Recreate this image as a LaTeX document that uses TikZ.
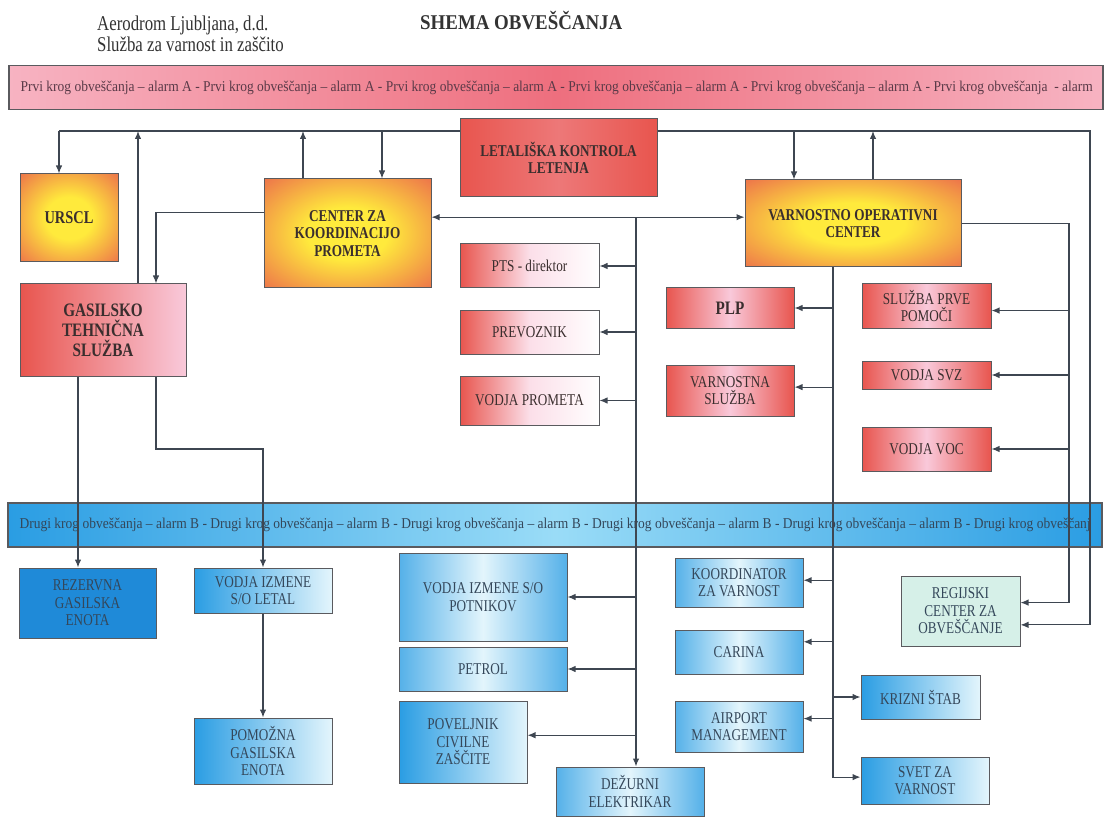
\documentclass[tikz,border=0pt]{standalone}
\usepackage{fontspec}
\setmainfont{Liberation Serif}[FakeStretch=0.9]
\newfontfamily\narrowfont{Liberation Serif}[FakeStretch=0.8]
\usetikzlibrary{arrows.meta}
\usetikzlibrary{calc}

\definecolor{boxred}{HTML}{E8554E}
\definecolor{glowyellow}{HTML}{FFEA3C}
\definecolor{boxpink}{HTML}{F9C9DA}
\definecolor{bandpink}{HTML}{F7B3C2}
\definecolor{bandred}{HTML}{EE6F7E}
\definecolor{boxblue}{HTML}{2A9DE3}
\definecolor{paleblue}{HTML}{E3F5FC}
\definecolor{bandcyan}{HTML}{9ADCF7}
\definecolor{deepblue}{HTML}{1F8AD8}
\definecolor{mint}{HTML}{D6F0E8}
\definecolor{linegray}{HTML}{3E4651}
\definecolor{boxline}{HTML}{5A5A5E}
\definecolor{redtext}{HTML}{3A2E2E}
\definecolor{bluetext}{HTML}{34475A}
\definecolor{pinktext}{HTML}{5A3A48}
\definecolor{headtext}{HTML}{333333}

\pgfdeclareradialshading{glow}{\pgfpoint{0bp}{0bp}}{color(0bp)=(glowyellow); color(12bp)=(glowyellow); color(42bp)=(boxred); color(50bp)=(boxred)}

\begin{document}
\begin{tikzpicture}[x=1pt, y=-1pt,
        box_style/.style={rectangle, draw=boxline, line width=1pt, inner sep=2pt, align=center, font=\narrowfont\fontsize{16.5}{17.5}\selectfont},
        bold_font/.style={font=\narrowfont\bfseries\fontsize{16.5}{17.5}\selectfont},
        glow_style/.style={box_style, shading=glow, text=redtext, bold_font},
        lkl_style/.style={box_style, left color=boxred, right color=boxred, middle color=boxred!70!boxpink, text=redtext, bold_font},
        pink_style/.style={box_style, left color=boxred, right color=boxpink, text=redtext, font=\narrowfont\bfseries\fontsize{19}{20}\selectfont},
        fade_style/.style={box_style, left color=boxred, right color=white, middle color=boxpink!60!white, text=redtext},
        rose_style/.style={box_style, left color=boxred, right color=boxred, middle color=boxpink, text=redtext},
        blue_style/.style={box_style, left color=boxblue, right color=paleblue, text=bluetext},
        bluemid_style/.style={box_style, left color=boxblue!80, right color=boxblue!80, middle color=paleblue, text=bluetext},
        band_style/.style={rectangle, draw=boxline, line width=1.2pt, minimum width=1094pt, minimum height=44pt},
        band_text/.style={anchor=west, inner sep=0pt, font=\fontsize{15}{17}\selectfont},
        edge_style/.style={draw=linegray, line width=1.2pt, -{Latex[length=8pt,width=6.5pt]}},
        dbl_style/.style={draw=linegray, line width=1.2pt, {Latex[length=8pt,width=6.5pt]}-{Latex[length=8pt,width=6.5pt]}},
        line_style/.style={draw=linegray, line width=1.2pt}]

        \useasboundingbox (0,0) rectangle (1108,818);
        \fill[white] (0,0) rectangle (1108,818);

        % header
        \node[anchor=base west, inner sep=0pt, text=headtext, font=\narrowfont\fontsize{21}{21}\selectfont] (org) at (97,31) {Aerodrom Ljubljana, d.d.};
        \node[anchor=base west, inner sep=0pt, text=headtext, font=\narrowfont\fontsize{21}{21}\selectfont] (dept) at (97,52) {Služba za varnost in zaščito};
        \node[anchor=base west, inner sep=0pt, text=headtext, font=\bfseries\fontsize{21}{22}\selectfont] (title) at (420,30) {SHEMA OBVEŠČANJA};

        % alarm bands
        \node[band_style, left color=bandpink, right color=bandpink, middle color=bandred] (band_a) at (556,87.5) {};
        \node[band_text, text=pinktext] (band_a_text) at ([xshift=12pt]band_a.west) {Prvi krog obveščanja – alarm A - Prvi krog obveščanja – alarm A - Prvi krog obveščanja – alarm A - Prvi krog obveščanja – alarm A - Prvi krog obveščanja – alarm A - Prvi krog obveščanja \ - alarm};

        \node[band_style, left color=boxblue, right color=boxblue, middle color=bandcyan] (band_b) at (555,525) {};
        \node[band_text, text=bluetext] (band_b_text) at ([xshift=12pt]band_b.west) {Drugi krog obveščanja – alarm B - Drugi krog obveščanja – alarm B - Drugi krog obveščanja – alarm B - Drugi krog obveščanja – alarm B - Drugi krog obveščanja – alarm B - Drugi krog obveščanj};

        % first circle
        \node[glow_style, minimum width=98pt, minimum height=88pt, font=\narrowfont\bfseries\fontsize{18}{19}\selectfont] (urscl) at (69,218) {URSCL};
        \node[glow_style, minimum width=167pt, minimum height=109pt] (ckp) at (347.5,233.5) {CENTER ZA\\KOORDINACIJO\\PROMETA};
        \node[lkl_style, minimum width=197pt, minimum height=78pt] (lkl) at (558.5,158) {LETALIŠKA KONTROLA\\LETENJA};
        \node[glow_style, minimum width=216pt, minimum height=87pt] (voc) at (853,223.5) {VARNOSTNO OPERATIVNI\\CENTER};
        \node[pink_style, minimum width=166pt, minimum height=92pt] (gts) at (103,330) {GASILSKO\\TEHNIČNA\\SLUŽBA};

        \node[fade_style, minimum width=139pt, minimum height=44pt] (pts) at (529.5,266) {PTS - direktor};
        \node[fade_style, minimum width=139pt, minimum height=44pt] (prev) at (529.5,332) {PREVOZNIK};
        \node[fade_style, minimum width=139pt, minimum height=49pt] (vprom) at (529.5,400.5) {VODJA PROMETA};

        \node[rose_style, minimum width=128pt, minimum height=40pt, font=\narrowfont\bfseries\fontsize{19}{20}\selectfont] (plp) at (730,308) {PLP};
        \node[rose_style, minimum width=128pt, minimum height=51pt] (vsl) at (730,390.5) {VARNOSTNA\\SLUŽBA};

        \node[rose_style, minimum width=129pt, minimum height=44pt] (spp) at (926.5,306) {SLUŽBA PRVE\\POMOČI};
        \node[rose_style, minimum width=129pt, minimum height=28pt] (svz) at (926.5,375) {VODJA SVZ};
        \node[rose_style, minimum width=129pt, minimum height=44pt] (vvoc) at (926.5,449) {VODJA VOC};

        % second circle
        \node[box_style, fill=deepblue, text=bluetext, minimum width=137pt, minimum height=70pt] (rez) at (87.5,603) {REZERVNA\\GASILSKA\\ENOTA};
        \node[blue_style, minimum width=138pt, minimum height=45pt] (vil) at (263,590.5) {VODJA IZMENE\\S/O LETAL};
        \node[blue_style, minimum width=138pt, minimum height=66pt] (pge) at (263,751) {POMOŽNA\\GASILSKA\\ENOTA};

        \node[bluemid_style, minimum width=168pt, minimum height=88pt] (vip) at (483,597) {VODJA IZMENE S/O\\POTNIKOV};
        \node[bluemid_style, minimum width=168pt, minimum height=44pt] (petrol) at (483,669) {PETROL};
        \node[blue_style, minimum width=128pt, minimum height=82pt] (pcz) at (463,742) {POVELJNIK\\CIVILNE\\ZAŠČITE};
        \node[bluemid_style, minimum width=148pt, minimum height=49pt] (dez) at (630,791.5) {DEŽURNI\\ELEKTRIKAR};

        \node[bluemid_style, minimum width=128pt, minimum height=49pt] (kzv) at (739,582.5) {KOORDINATOR\\ZA VARNOST};
        \node[bluemid_style, minimum width=128pt, minimum height=44pt] (carina) at (739,652) {CARINA};
        \node[bluemid_style, minimum width=128pt, minimum height=51pt] (am) at (739,726.5) {AIRPORT\\MANAGEMENT};
        \node[blue_style, minimum width=119pt, minimum height=44pt] (ks) at (920.5,697) {KRIZNI ŠTAB};
        \node[blue_style, minimum width=128pt, minimum height=47pt] (szv) at (925,780.5) {SVET ZA\\VARNOST};
        \node[box_style, fill=mint, text=bluetext, minimum width=119pt, minimum height=70pt] (rco) at (960.5,611) {REGIJSKI\\CENTER ZA\\OBVEŠČANJE};

        % bus lines
        \coordinate (tl) at (59,131);
        \coordinate (tr) at (1090,131);
        \coordinate (gts_up) at (138,0);
        \coordinate (ckp_up) at (303,0);
        \coordinate (ckp_down) at (382,0);
        \coordinate (voc_down) at (794,0);
        \coordinate (voc_up) at (873,0);
        \coordinate (gts_left) at (78,0);
        \coordinate (gts_bend) at (156,449);
        \coordinate (mid_trunk) at (636,0);
        \coordinate (voc_trunk) at (833,0);
        \coordinate (right_trunk) at (1069,0);

        \draw[line_style] (tl) -- (tl -| lkl.west);
        \draw[edge_style] (tl -| lkl.east) -- (tr) |- (rco.347);
        \draw[edge_style] (tl) -- (urscl.north -| tl);
        \draw[edge_style] (gts.north -| gts_up) -- (tl -| gts_up);
        \draw[edge_style] (ckp.north -| ckp_up) -- (tl -| ckp_up);
        \draw[edge_style] (tl -| ckp_down) -- (ckp.north -| ckp_down);
        \draw[edge_style] (tl -| voc_down) -- (voc.north -| voc_down);
        \draw[edge_style] (voc.north -| voc_up) -- (tl -| voc_up);

        \draw[edge_style] (ckp.166) -| (gts.north -| gts_bend);
        \draw[dbl_style] (ckp.11) -- (ckp.11 -| voc.west);

        % trunk under the double arrow
        \draw[edge_style] (ckp.11 -| mid_trunk) -- (dez.north -| mid_trunk);
        \foreach \n/\a in {pts/0, prev/0, vprom/0, vip/0, petrol/0, pcz/6}
            \draw[edge_style] (\n.\a -| mid_trunk) -- (\n.\a);

        % trunk under VOC
        \draw[edge_style] (voc.south -| voc_trunk) |- (szv.177);
        \foreach \n/\a in {plp/0, vsl/3, kzv/2, carina/9, am/7}
            \draw[edge_style] (\n.\a -| voc_trunk) -- (\n.\a);
        \draw[edge_style] (ks.west -| voc_trunk) -- (ks.west);

        % trunk right of VOC
        \draw[edge_style] (voc.east) -| (rco.8 -| right_trunk) -- (rco.8);
        \foreach \n/\a in {spp/356, svz/0, vvoc/0}
            \draw[edge_style] (\n.\a -| right_trunk) -- (\n.\a);

        % fire service
        \draw[edge_style] (gts.south -| gts_left) -- (rez.north -| gts_left);
        \draw[edge_style] (gts.south -| gts_bend) -- (gts_bend) -| (vil.north);
        \draw[edge_style] (vil) -- (pge);

\end{tikzpicture}
\end{document}
